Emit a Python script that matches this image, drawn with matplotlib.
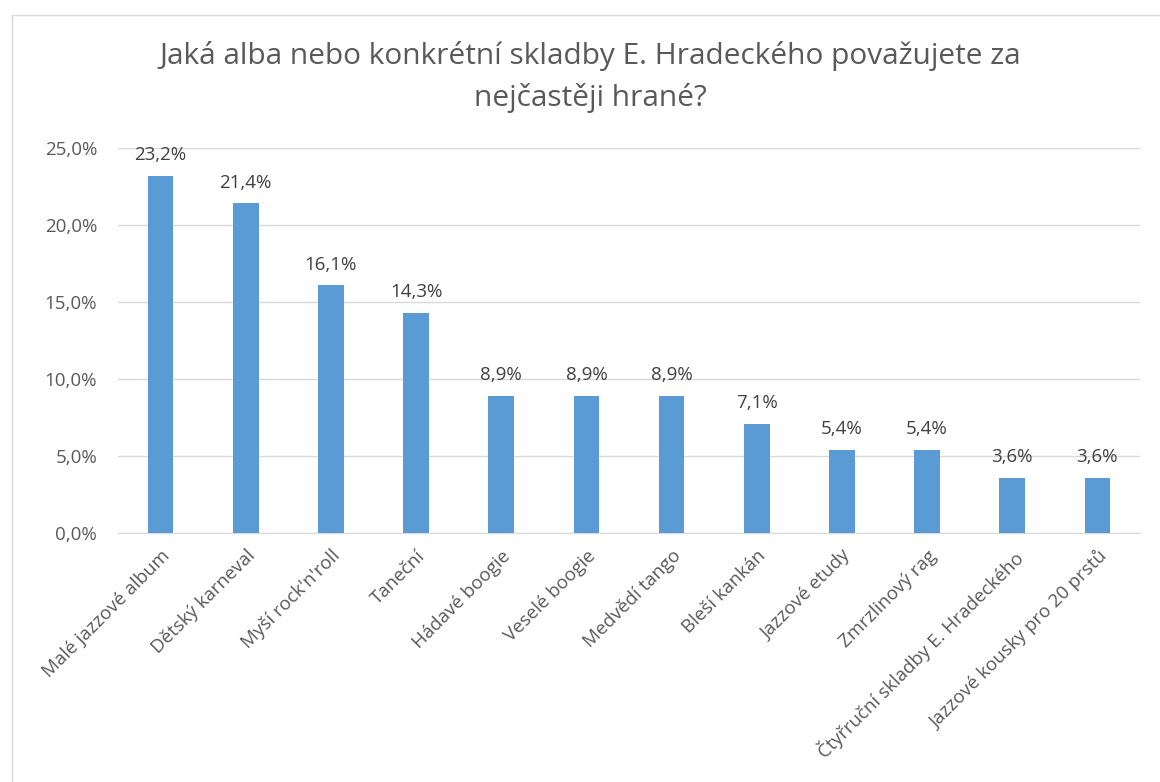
import matplotlib.pyplot as plt
from matplotlib.ticker import FuncFormatter
from matplotlib.lines import Line2D

categories = [
    "Malé jazzové album",
    "Dětský karneval",
    "Myší rock'n'roll",
    "Taneční",
    "Hádavé boogie",
    "Veselé boogie",
    "Medvědí tango",
    "Bleší kankán",
    "Jazzové etudy",
    "Zmrzlinový rag",
    "Čtyřruční skladby E. Hradeckého",
    "Jazzové kousky pro 20 prstů",
]
values = [23.2, 21.4, 16.1, 14.3, 8.9, 8.9, 8.9, 7.1, 5.4, 5.4, 3.6, 3.6]
yticks = [0, 5, 10, 15, 20, 25]
title = "Jaká alba nebo konkrétní skladby E. Hradeckého považujete za\nnejčastěji hrané?"

plt.rcParams['font.family'] = ['Open Sans', 'DejaVu Sans']

fig = plt.figure(figsize=(11.6, 7.82), dpi=100)
ax = fig.add_axes([118 / 1160, 1 - 533 / 782, 1022 / 1160, 385 / 782])

x = list(range(len(categories)))
ax.bar(x, values, width=0.3, color='#5B9BD5', zorder=3)

# data labels above bars
for xi, v in zip(x, values):
    ax.text(xi, v + 0.75, f"{v:.1f}%".replace('.', ','), ha='center', va='bottom',
            fontsize=13.5, color='#404040')

ax.set_xlim(-0.5, len(categories) - 0.5)
ax.set_ylim(0, 25)
ax.set_yticks(yticks)
ax.yaxis.set_major_formatter(FuncFormatter(lambda v, p: f"{v:.1f}%".replace('.', ',')))
ax.grid(axis='y', color='#D9D9D9', linewidth=1, zorder=0)
ax.tick_params(axis='y', length=0, labelsize=13.5, labelcolor='#595959', pad=15)
ax.tick_params(axis='x', length=0, labelsize=13.5, labelcolor='#595959', pad=10)
ax.set_xticks(x)
ax.set_xticklabels(categories, rotation=45, ha='right', rotation_mode='anchor')
for s in ['top', 'right', 'left']:
    ax.spines[s].set_visible(False)
ax.spines['bottom'].set_color('#D9D9D9')

fig.text(0.509, 1 - 77 / 782, title, ha='center', va='center', fontsize=21.5,
         color='#595959', linespacing=1.5)

# chart area border (spreadsheet frame)
fig.add_artist(Line2D([12 / 1160, 12 / 1160], [0, 1 - 15 / 782], color='#D9D9D9', lw=1,
                      transform=fig.transFigure))
fig.add_artist(Line2D([12 / 1160, 1], [1 - 15 / 782, 1 - 15 / 782], color='#D9D9D9', lw=1,
                      transform=fig.transFigure))

fig.savefig('out.png', dpi=100)
